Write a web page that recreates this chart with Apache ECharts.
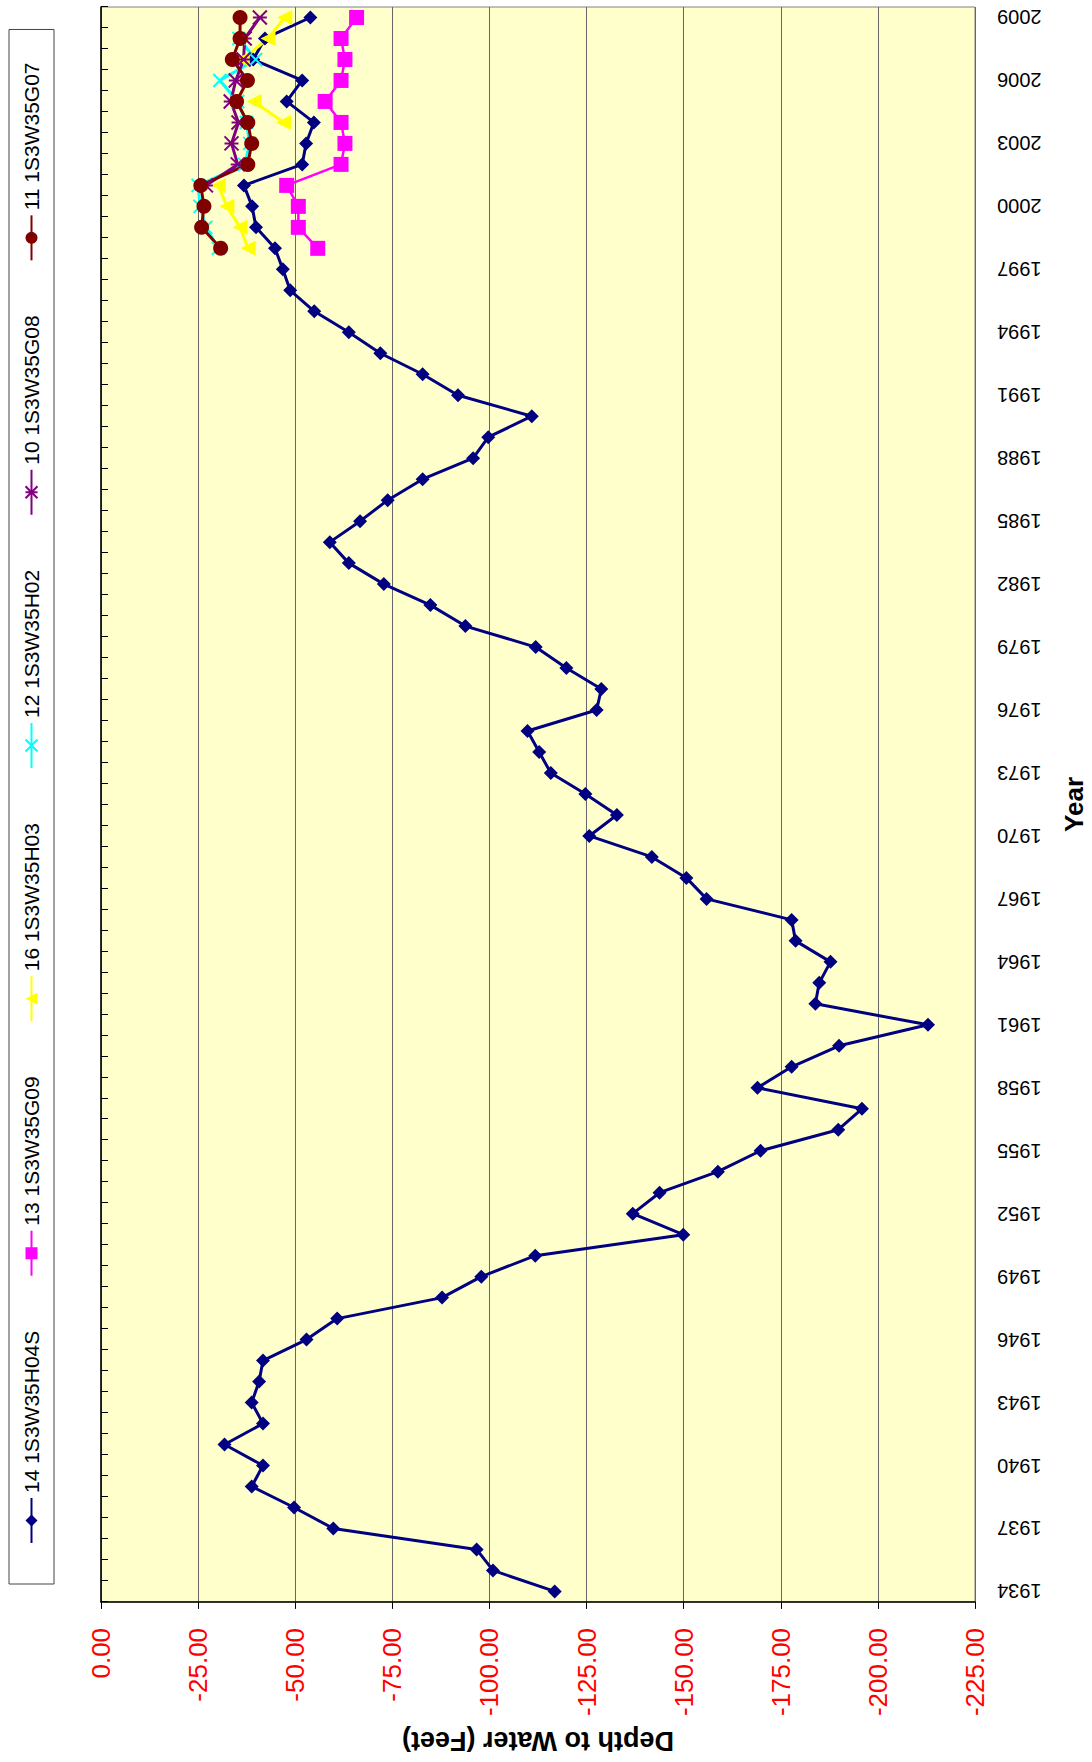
<!DOCTYPE html>
<html>
<head>
<meta charset="utf-8">
<title>Depth to Water</title>
<script src="https://cdn.jsdelivr.net/npm/echarts@6/dist/echarts.min.js"></script>
<style>
  html, body { margin: 0; padding: 0; width: 1092px; height: 1762px; overflow: hidden; background: #fff; }
  /* The chart is laid out landscape and turned a quarter turn counter-clockwise onto the tall page */
  #chart { position: absolute; left: 0; top: 0; width: 1762px; height: 1092px;
           transform-origin: 0 0; transform: translateY(1762px) rotate(-90deg); }
</style>
</head>
<body>
<div id="chart"></div>
<script>
// Years on the category axis
const years = ['1934','1935','1936','1937','1938','1939','1940','1941','1942','1943',
  '1944','1945','1946','1947','1948','1949','1950','1951','1952','1953',
  '1954','1955','1956','1957','1958','1959','1960','1961','1962','1963',
  '1964','1965','1966','1967','1968','1969','1970','1971','1972','1973',
  '1974','1975','1976','1977','1978','1979','1980','1981','1982','1983',
  '1984','1985','1986','1987','1988','1989','1990','1991','1992','1993',
  '1994','1995','1996','1997','1998','1999','2000','2001','2002','2003',
  '2004','2005','2006','2007','2008','2009'];

// Well 14 1S3W35H04S, one reading per year 1934-2009 (feet)
const well14 = [-116.8,-100.9,-96.7,-59.8,-49.7,-38.8,-41.7,-31.8,-41.7,-38.8,
  -40.7,-41.7,-52.9,-60.8,-87.8,-97.9,-111.8,-149.9,-136.9,-143.8,
  -158.8,-169.8,-189.8,-195.9,-169.0,-177.8,-190.0,-212.9,-183.9,-184.9,
  -187.8,-178.8,-177.8,-155.9,-150.7,-141.8,-125.7,-132.8,-124.7,-115.8,
  -112.8,-109.8,-127.6,-128.8,-119.8,-111.9,-93.8,-84.8,-72.8,-63.8,
  -58.9,-66.7,-73.8,-82.8,-95.8,-99.7,-110.9,-91.9,-82.8,-71.9,
  -63.8,-54.9,-48.7,-46.8,-44.8,-39.9,-38.9,-36.8,-51.8,-52.8,
  -54.8,-47.8,-51.8,-39.2,-42.2,-53.9];

// Shorter records, 1998-2009 (null = no reading)
const recentYears = ['1998','1999','2000','2001','2002','2003','2004','2005','2006','2007','2008','2009'];
const well13 = [-55.8,-50.8,-50.8,-47.8,-61.8,-62.8,-61.8,-57.7,-61.8,-62.8,-61.8,-65.8];
const well16 = [-37.9,-35.8,-32.4,-30.2,null,null,-47.0,-39.4,null,-36.4,-43.0,-47.3];
const well12 = [-30.2,-27.0,-25.5,-25.0,-37.0,-38.3,-37.4,-35.2,-30.6,-39.8,-35.5,null];
const well10 = [null,null,null,-27.0,-35.2,-33.6,-35.4,-33.4,-34.7,-36.7,-37.0,-40.9];
const well11 = [-30.8,-25.9,-26.5,-25.7,-37.8,-38.8,-37.8,-34.9,-37.7,-33.8,-35.8,-35.8];

const seriesNames = ['14 1S3W35H04S','13 1S3W35G09','16 1S3W35H03','12 1S3W35H02','10 1S3W35G08','11 1S3W35G07'];

// Depth axis ticks
const depthTicks = [0,-25,-50,-75,-100,-125,-150,-175,-200,-225];

const font = 'Liberation Sans, Arial, sans-serif';
const crossSymbol = 'path://M0,0L10,10M10,0L0,10';
const starSymbol = 'path://M0,0L10,10M10,0L0,10M5,0L5,10';

function pairs(cats, vals) {
  return cats.map((c, i) => [c, vals[i]]);
}

function lineSeries(name, data, color, symbol, size, extra) {
  return Object.assign({
    name: name,
    type: 'line',
    data: data,
    symbol: symbol,
    symbolSize: size,
    showAllSymbol: true,
    connectNulls: false,
    lineStyle: { color: color, width: 3 },
    itemStyle: { color: color },
    emphasis: { disabled: true }
  }, extra || {});
}

const chart = echarts.init(document.getElementById('chart'), null, { renderer: 'svg', width: 1762, height: 1092 });

chart.setOption({
  animation: false,
  backgroundColor: '#ffffff',
  textStyle: { fontFamily: font },
  legend: {
    data: seriesNames,
    left: 178,
    top: 9,
    orient: 'horizontal',
    itemWidth: 45,
    itemHeight: 15,
    itemGap: 54,
    padding: [12, 33, 12, 40],
    borderColor: '#444',
    borderWidth: 1,
    backgroundColor: '#ffffff',
    selectedMode: false,
    textStyle: { fontFamily: font, fontSize: 21, color: '#000' }
  },
  grid: {
    left: 151, right: 7, top: 101, bottom: 117,
    show: true,
    backgroundColor: '#FFFFCC',
    borderColor: '#808080',
    borderWidth: 1
  },
  xAxis: {
    type: 'category',
    data: years,
    boundaryGap: true,
    name: 'Year',
    nameLocation: 'middle',
    nameGap: 86,
    nameTextStyle: { fontFamily: font, fontSize: 26, fontWeight: 'bold', color: '#000' },
    axisLine: { lineStyle: { color: '#000', width: 1.5 } },
    axisTick: { show: true, interval: 0, length: 7, lineStyle: { color: '#000' } },
    axisLabel: { interval: 2, rotate: 90, margin: 22, fontSize: 20, color: '#000', fontFamily: font }
  },
  yAxis: {
    type: 'value',
    min: depthTicks[depthTicks.length - 1],
    max: depthTicks[0],
    interval: 25,
    name: 'Depth to Water (Feet)',
    nameLocation: 'middle',
    nameRotate: 90,
    nameGap: 115,
    nameTextStyle: { fontFamily: font, fontSize: 27, fontWeight: 'bold', color: '#000' },
    axisLine: { show: true, lineStyle: { color: '#000', width: 1.5 } },
    axisTick: { show: true, length: 7, lineStyle: { color: '#000' } },
    axisLabel: { color: '#FF0000', fontSize: 26, margin: 26, fontFamily: font,
                 formatter: v => v.toFixed(2) },
    splitLine: { show: true, lineStyle: { color: '#666', width: 1 } }
  },
  series: [
    lineSeries(seriesNames[0], pairs(years, well14), '#000080', 'diamond', 14),
    lineSeries(seriesNames[1], pairs(recentYears, well13), '#FF00FF', 'rect', 15, { lineStyle: { color: '#FF00FF', width: 2.5 } }),
    lineSeries(seriesNames[2], pairs(recentYears, well16), '#FFFF00', 'triangle', 15),
    lineSeries(seriesNames[3], pairs(recentYears, well12), '#00FFFF', crossSymbol, 13,
      { itemStyle: { color: '#00FFFF', borderColor: '#00FFFF', borderWidth: 2 } }),
    lineSeries(seriesNames[4], pairs(recentYears, well10), '#800080', starSymbol, 14,
      { itemStyle: { color: '#800080', borderColor: '#800080', borderWidth: 2 } }),
    lineSeries(seriesNames[5], pairs(recentYears, well11), '#800000', 'circle', 15)
  ]
});
</script>
</body>
</html>
